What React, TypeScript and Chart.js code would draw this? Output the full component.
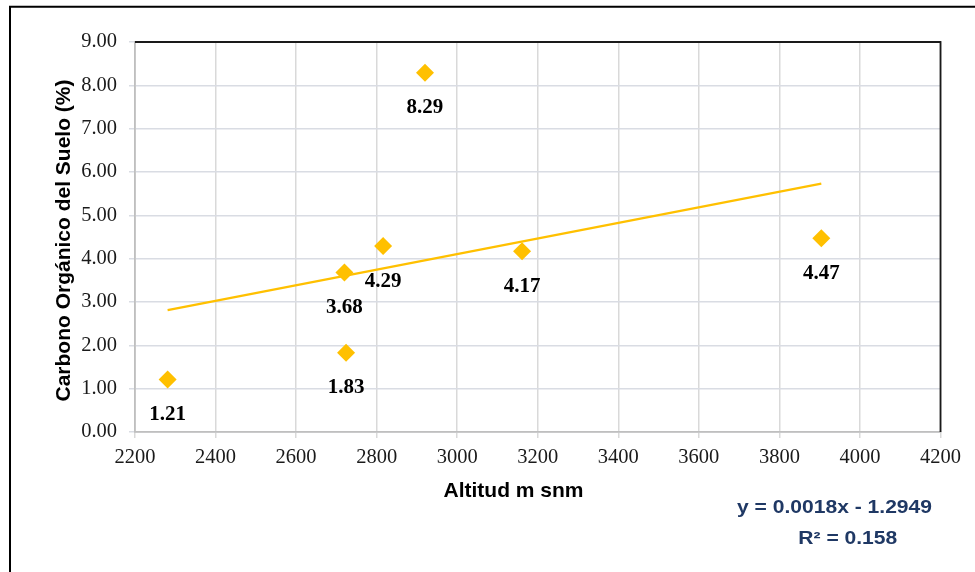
import React, { useEffect, useRef } from "react";
import { Chart, registerables } from "chart.js";

Chart.register(...registerables);

// Altitude (m a.s.l.) and soil organic carbon (%) per sampling site
const altitud = [2281, 2720, 2724, 2816, 2920, 3161, 3904];
const carbono = [1.21, 3.68, 1.83, 4.29, 8.29, 4.17, 4.47];

// Linear trend coefficients
const pendiente = 0.0018;
const intercepto = -1.2949;
const r2 = 0.158;

// Axis ranges
const xMin = 2200;
const xMax = 4200;
const xStep = 200;
const yMin = 0;
const yMax = 9;
const yStep = 1;

const tituloX = "Altitud m snm";
const tituloY = "Carbono Orgánico del Suelo (%)";

const SERIF = "'Liberation Serif', 'Times New Roman', serif";
const SANS = "'Liberation Sans', Arial, sans-serif";
const AMARILLO = "#FFC000";

const decoraciones = {
  id: "decoraciones",
  afterDatasetsDraw(chart: any) {
    const ctx = chart.ctx as CanvasRenderingContext2D;
    const meta = chart.getDatasetMeta(0);
    ctx.save();
    ctx.fillStyle = "#000";
    ctx.font = `bold 21px ${SERIF}`;
    ctx.textAlign = "center";
    ctx.textBaseline = "alphabetic";
    meta.data.forEach((pt: any, i: number) => {
      ctx.fillText(carbono[i].toFixed(2), pt.x, pt.y + 40.5);
    });
    ctx.restore();
  },
  afterDraw(chart: any) {
    const ctx = chart.ctx as CanvasRenderingContext2D;
    const { left, right, top, bottom } = chart.chartArea;
    ctx.save();

    // outer frame
    ctx.strokeStyle = "#000";
    ctx.lineWidth = 2;
    ctx.beginPath();
    ctx.moveTo(10, 572);
    ctx.lineTo(10, 6.7);
    ctx.lineTo(975, 6.7);
    ctx.stroke();

    // plot area top and right edges
    ctx.strokeStyle = "#1a1a1a";
    ctx.lineWidth = 1.8;
    ctx.beginPath();
    ctx.moveTo(left, top);
    ctx.lineTo(right, top);
    ctx.lineTo(right, bottom);
    ctx.stroke();

    // axis titles
    ctx.fillStyle = "#000";
    ctx.font = `bold 21px ${SANS}`;
    ctx.textAlign = "center";
    ctx.textBaseline = "alphabetic";
    ctx.fillText(tituloX, 513.5, 496.5);

    ctx.save();
    ctx.translate(70, 240.5);
    ctx.rotate(-Math.PI / 2);
    ctx.fillText(tituloY, 0, 0);
    ctx.restore();

    // trend equation
    const ecuacion = `y = ${pendiente.toFixed(4)}x - ${Math.abs(intercepto).toFixed(4)}`;
    const rTexto = `R² = ${r2.toFixed(3)}`;
    ctx.fillStyle = "#1F3864";
    ctx.font = `bold 18px ${SANS}`;
    ctx.save();
    ctx.translate(834.5, 513.3);
    ctx.scale(1.17, 1);
    ctx.fillText(ecuacion, 0, 0);
    ctx.restore();
    ctx.save();
    ctx.translate(847.8, 544);
    ctx.scale(1.17, 1);
    ctx.fillText(rTexto, 0, 0);
    ctx.restore();

    ctx.restore();
  },
};

export default function App() {
  const ref = useRef<HTMLCanvasElement | null>(null);

  useEffect(() => {
    if (!ref.current) return;
    const xs = [Math.min(...altitud), Math.max(...altitud)];
    const tendencia = xs.map((x) => ({ x, y: pendiente * x + intercepto }));

    const chart = new Chart(ref.current, {
      type: "scatter",
      data: {
        datasets: [
          {
            label: "COS",
            data: altitud.map((x, i) => ({ x, y: carbono[i] })),
            pointStyle: "rectRot",
            pointRadius: 9,
            pointHoverRadius: 9,
            backgroundColor: AMARILLO,
            borderWidth: 0,
            order: 0,
          },
          {
            label: "Lineal",
            type: "line",
            data: tendencia,
            borderColor: AMARILLO,
            borderWidth: 2.2,
            pointRadius: 0,
            fill: false,
            order: 1,
          } as any,
        ],
      },
      options: {
        animation: false,
        responsive: false,
        events: [],
        layout: { padding: { left: 0, top: 42, right: 34.5, bottom: 0 } },
        plugins: {
          legend: { display: false },
          tooltip: { enabled: false },
        },
        scales: {
          x: {
            type: "linear",
            min: xMin,
            max: xMax,
            afterFit: (s: any) => {
              s.height = 140;
            },
            ticks: {
              stepSize: xStep,
              padding: 7,
              color: "#1a1a1a",
              font: { family: SERIF, size: 20.5 },
              callback: (v: any) => String(v),
            },
            grid: { color: "#d9d9d9", lineWidth: 1.5, tickLength: 6 },
            border: { color: "#bfbfbf", width: 1.8 },
          },
          y: {
            type: "linear",
            min: yMin,
            max: yMax,
            afterFit: (s: any) => {
              s.width = 135;
            },
            ticks: {
              stepSize: yStep,
              padding: 12,
              color: "#1a1a1a",
              font: { family: SERIF, size: 20.5 },
              callback: (v: any) => Number(v).toFixed(2),
            },
            grid: { color: "#d9dce3", lineWidth: 1.5, tickLength: 6 },
            border: { color: "#bfbfbf", width: 1.8 },
          },
        },
      },
      plugins: [decoraciones],
    });
    return () => chart.destroy();
  }, []);

  return (
    <div style={{ position: "absolute", left: 0, top: 0, width: 975, height: 572, background: "#fff" }}>
      <canvas ref={ref} width={975} height={572} style={{ display: "block", width: 975, height: 572 }} />
    </div>
  );
}
